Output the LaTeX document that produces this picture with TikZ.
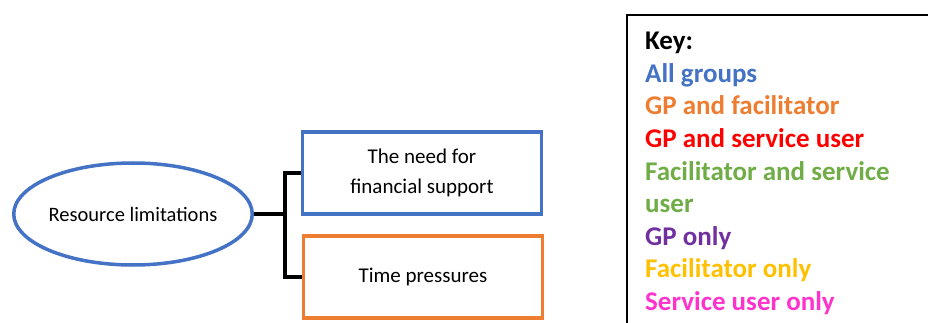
\documentclass[tikz,border=0pt]{standalone}
\usepackage{fontspec}
\setmainfont{Carlito}
\usetikzlibrary{shapes.geometric}
\definecolor{allblue}{HTML}{4472C4}
\definecolor{gporange}{HTML}{ED7D31}
\definecolor{gpred}{HTML}{FF0000}
\definecolor{facgreen}{HTML}{70AD47}
\definecolor{gppurple}{HTML}{7030A0}
\definecolor{facyellow}{HTML}{FFC000}
\definecolor{userpink}{HTML}{FF33CC}
\begin{document}
\begin{tikzpicture}
  [x=1pt,y=-1pt,every node/.style={font=\fontsize{20.5}{30}\selectfont,inner sep=0pt}]
  \tikzstyle{theme} = [ellipse,draw=allblue,line width=3.5pt,minimum width=233pt,minimum height=102pt]
  \tikzstyle{subtheme} = [rectangle,draw,line width=3.5pt,minimum width=239pt,minimum height=82pt,align=center,font=\fontsize{21}{30}\selectfont]
  \tikzstyle{keyline} = [anchor=base west,font=\fontsize{27}{30}\selectfont\bfseries]
  \useasboundingbox (0,0) rectangle (928,323);
  \clip (0,0) rectangle (928,323);
  \node[theme] (res) at (133,214) {Resource limitations};
  \node[subtheme,draw=allblue] (fin) at (422,173) {The need for\\financial support};
  \node[subtheme,draw=gporange] (time) at (423,277) {Time pressures};
  \coordinate (fork) at (285,214);
  \draw[line width=4pt] (res.east) -- (fork);
  \draw[line width=4pt] (fin.west) -| (fork);
  \draw[line width=4pt] (time.west) -| (fork);
  % key
  \node[draw,line width=2pt,minimum width=340pt,minimum height=340pt,anchor=north west] (key) at (626,14) {};
  \foreach \n/\txt/\col in {0/Key:/black,1/All groups/allblue,2/GP and facilitator/gporange,
    3/GP and service user/gpred,4/Facilitator and service/facgreen,5/user/facgreen,
    6/GP only/gppurple,7/Facilitator only/facyellow,8/Service user only/userpink}
    \node[keyline,text=\col] (k\n) at (645,50+32.5*\n) {\txt};
\end{tikzpicture}
\end{document}
